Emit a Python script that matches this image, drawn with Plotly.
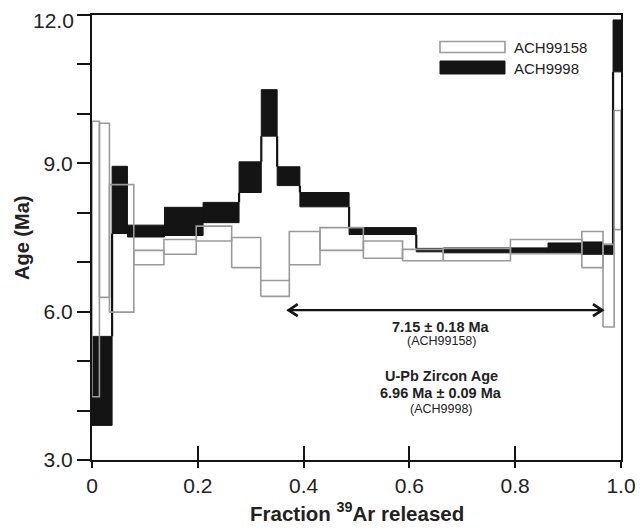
import plotly.graph_objects as go

# ---------------- data ----------------
# ACH9998 (black filled steps)
b_edges = [0.000, 0.038, 0.067, 0.137, 0.210, 0.278, 0.320, 0.350, 0.393, 0.486,
           0.613, 0.665, 0.790, 0.862, 0.926, 0.965, 0.985, 1.000]
b_lo = [3.70, 7.58, 7.51, 7.54, 7.80, 8.41, 9.55, 8.55, 8.12, 7.56,
        7.21, 7.19, 7.19, 7.19, 7.16, 7.16, 10.85]
b_hi = [5.50, 8.94, 7.75, 8.11, 8.21, 9.03, 10.49, 8.93, 8.41, 7.70,
        7.28, 7.29, 7.29, 7.39, 7.41, 7.36, 11.90]

# ACH99158 (grey open steps)
g_edges = [0.000, 0.014, 0.033, 0.079, 0.136, 0.197, 0.264, 0.319, 0.373, 0.431,
           0.513, 0.587, 0.664, 0.791, 0.926, 0.966, 0.987, 1.000]
g_lo = [4.28, 6.29, 5.99, 6.95, 7.16, 7.43, 6.89, 6.31, 6.95, 7.24,
        7.08, 7.03, 7.03, 7.17, 6.89, 5.69, 7.66]
g_hi = [9.85, 9.81, 8.57, 7.24, 7.46, 7.73, 7.50, 6.63, 7.62, 7.70,
        7.43, 7.26, 7.28, 7.46, 7.62, 7.36, 10.07]

# plateau arrow (ACH99158)
plateau_from = 0.370
plateau_to = 0.966
plateau_y = 6.03

x_ticks = [0, 0.2, 0.4, 0.6, 0.8, 1.0]
x_labels = ["0", "0.2", "0.4", "0.6", "0.8", "1.0"]
y_ticks = [3, 6, 9, 12]
y_labels = ["3.0", "6.0", "9.0", "12.0"]
y_minor_step = 1

series_names = ["ACH99158", "ACH9998"]

BLACK = "#141414"
GREY = "#9a9a9a"
FONT = "Liberation Sans"

# page offset of the plot div (browser default body margin)
OFF = 8


def boxes(edges, lo, hi):
    xs, ys = [], []
    for i in range(len(lo)):
        x0, x1 = edges[i], edges[i + 1]
        xs += [x0, x1, x1, x0, x0, None]
        ys += [lo[i], lo[i], hi[i], hi[i], lo[i], None]
    return xs, ys


def risers(edges, lo, hi):
    xs, ys = [], []
    for i in range(len(lo) - 1):
        xe = edges[i + 1]
        if hi[i] < lo[i + 1]:
            xs += [xe, xe, None]
            ys += [hi[i], lo[i + 1], None]
        elif lo[i] > hi[i + 1]:
            xs += [xe, xe, None]
            ys += [hi[i + 1], lo[i], None]
    return xs, ys


fig = go.Figure()

bx, by = boxes(b_edges, b_lo, b_hi)
fig.add_trace(go.Scatter(x=bx, y=by, mode="lines", fill="toself",
                         fillcolor=BLACK, line=dict(color=BLACK, width=1),
                         hoverinfo="skip"))
rx, ry = risers(b_edges, b_lo, b_hi)
fig.add_trace(go.Scatter(x=rx, y=ry, mode="lines",
                         line=dict(color=BLACK, width=2.2), hoverinfo="skip"))

gx, gy = boxes(g_edges, g_lo, g_hi)
fig.add_trace(go.Scatter(x=gx, y=gy, mode="lines",
                         line=dict(color=GREY, width=1.6), hoverinfo="skip"))
rgx, rgy = risers(g_edges, g_lo, g_hi)
fig.add_trace(go.Scatter(x=rgx, y=rgy, mode="lines",
                         line=dict(color=GREY, width=1.6), hoverinfo="skip"))

# invisible trace on overlay axis (for inside x ticks)
fig.add_trace(go.Scatter(x=[0, 1], y=[3, 3], xaxis="x2", mode="markers",
                         marker=dict(opacity=0), hoverinfo="skip"))

axis_common = dict(showgrid=False, zeroline=False, showline=True,
                   linecolor=BLACK, linewidth=2, mirror=True,
                   tickcolor=BLACK, tickwidth=2, automargin=False,
                   ticklabeloverflow="allow",
                   tickfont=dict(family=FONT, size=21, color="#222"))

# the top label (12.0) is placed as a text just under the frame line
fig.update_layout(
    width=643 - OFF, height=530 - OFF,
    margin=dict(l=92 - OFF, r=22, t=15 - OFF, b=70),
    plot_bgcolor="white", paper_bgcolor="white",
    showlegend=False,
    xaxis=dict(range=[0, 1], tickvals=x_ticks, ticktext=x_labels,
               ticks="outside", ticklen=6, **axis_common),
    xaxis2=dict(range=[0, 1], overlaying="x", side="bottom", anchor="y",
                tickvals=x_ticks, ticks="inside", ticklen=14, tickwidth=2,
                tickcolor=BLACK, showticklabels=False, showline=False,
                showgrid=False, zeroline=False),
    yaxis=dict(range=[3, 12], tickvals=y_ticks[:-1], ticktext=y_labels[:-1],
               ticks="outside", ticklen=13,
               minor=dict(dtick=y_minor_step, ticks="outside", ticklen=13,
                          tickwidth=2, tickcolor=BLACK, showgrid=False),
               **axis_common),
)


def px_x(p):
    return (p - 92) / 529.0


def px_y(p):
    return (460 - p) / 445.0


fig.add_annotation(xref="paper", yref="paper", x=px_x(75.5), y=px_y(20.5),
                   text=y_labels[-1], showarrow=False, xanchor="right",
                   yanchor="middle", font=dict(family=FONT, size=21, color="#222"))

# legend (drawn manually)
fig.add_shape(type="rect", xref="paper", yref="paper",
              x0=px_x(440), x1=px_x(505), y0=px_y(52.5), y1=px_y(41.5),
              line=dict(color=GREY, width=1.6), fillcolor="white")
fig.add_shape(type="rect", xref="paper", yref="paper",
              x0=px_x(440), x1=px_x(505), y0=px_y(74), y1=px_y(61),
              line=dict(color=BLACK, width=1), fillcolor=BLACK)
fig.add_annotation(xref="paper", yref="paper", x=px_x(512), y=px_y(47),
                   text=series_names[0], showarrow=False, xanchor="left",
                   yanchor="middle", font=dict(family=FONT, size=15, color="#222"))
fig.add_annotation(xref="paper", yref="paper", x=px_x(512), y=px_y(68),
                   text=series_names[1], showarrow=False, xanchor="left",
                   yanchor="middle", font=dict(family=FONT, size=15, color="#222"))

# plateau arrow: shaft + open chevron heads
fig.add_shape(type="line", xref="x", yref="y", x0=plateau_from, x1=plateau_to,
              y0=plateau_y, y1=plateau_y, line=dict(color=BLACK, width=2.2))
fig.add_shape(type="path", xref="x", yref="y", xsizemode="pixel",
              ysizemode="pixel", xanchor=plateau_from, yanchor=plateau_y,
              path="M 10,6 L 1,0 L 10,-6", line=dict(color=BLACK, width=2.8))
fig.add_shape(type="path", xref="x", yref="y", xsizemode="pixel",
              ysizemode="pixel", xanchor=plateau_to, yanchor=plateau_y,
              path="M -10,6 L -1,0 L -10,-6", line=dict(color=BLACK, width=2.8))

# age texts
cx = px_x(441)
texts = [
    ("<b>7.15 ± 0.18 Ma</b>", 326.5, 14.5),
    ("(ACH99158)", 341, 12.5),
    ("<b>U-Pb Zircon Age</b>", 375.5, 14.5),
    ("<b>6.96 Ma ± 0.09 Ma</b>", 393, 14.5),
    ("(ACH9998)", 409, 12.5),
]
for t, py, fs in texts:
    fig.add_annotation(xref="paper", yref="paper", x=cx, y=px_y(py), text=t,
                       showarrow=False, xanchor="center", yanchor="middle",
                       font=dict(family=FONT, size=fs, color="#222"))

# axis titles
fig.add_annotation(xref="paper", yref="paper", x=px_x(22), y=px_y(238),
                   text="<b>Age (Ma)</b>", textangle=-90, showarrow=False,
                   xanchor="center", yanchor="middle",
                   font=dict(family=FONT, size=20, color="#222"))
fig.add_annotation(xref="paper", yref="paper", x=px_x(357), y=px_y(512),
                   text="<b>Fraction <sup>39</sup>Ar released</b>", showarrow=False,
                   xanchor="center", yanchor="middle",
                   font=dict(family=FONT, size=20.5, color="#222"))

fig.write_html("out.html")
